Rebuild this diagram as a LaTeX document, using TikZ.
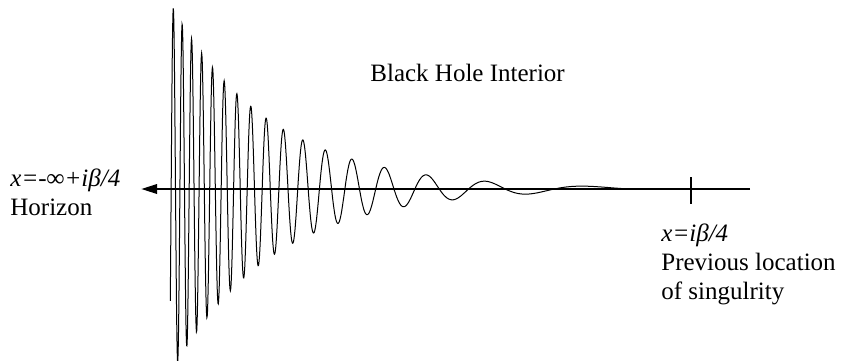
\documentclass[tikz,border=0pt]{standalone}
\usepackage{fontspec}
\setmainfont{Liberation Serif}
\usetikzlibrary{arrows.meta}

\begin{document}
\begin{tikzpicture}[
	x=0.5pt, y=-0.5pt,
	axis/.style={line width=1.3pt, -{Triangle[length=8pt,width=4.6pt]}},
	cut/.style={line width=0.8pt},
	wave/.style={line width=0.5pt},
	lbl/.style={font=\fontsize{12.5}{14.4}\selectfont, inner sep=0pt, align=left, anchor=base west},
	]
	\useasboundingbox (0,0) rectangle (841,360);
	
	\coordinate (horizon) at (141,189);
	\coordinate (far)     at (750,189);
	\coordinate (sing)    at (691,189);
	
	% decaying oscillation, piling up toward the horizon
	\draw[wave] plot[domain=170.3:627, samples=1400, variable=\t]
		(\t, {189 - 180.7*exp(-(\t-173.3)/99.3)*cos(deg(34*pi*(1-exp(-(\t-173.3)/146))))});
	
	\draw[axis] (far) -- (horizon);
	\draw[cut] ([yshift=6pt]sing) -- ([yshift=-7.5pt]sing);
	
	% multi-line labels: base is the last line
	\node[lbl] (interior) at (370,81) {Black Hole Interior};
	\node[lbl] (hlabel)   at (10,215) {\textit{x=-∞+iβ/4}\\Horizon};
	\node[lbl] (slabel)   at (661,299) {\textit{x=iβ/4}\\Previous location\\of singulrity};
	
\end{tikzpicture}
\end{document}
